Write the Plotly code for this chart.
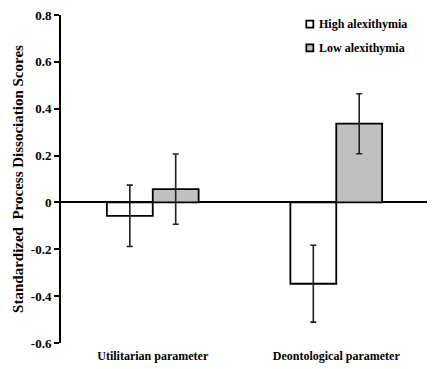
import plotly.graph_objects as go

categories = ["Utilitarian parameter", "Deontological parameter"]
series_names = ["High alexithymia", "Low alexithymia"]
series_colors = ["white", "#c0c0c0"]
high_vals = [-0.057, -0.347]
high_err = [0.131, 0.164]
low_vals = [0.057, 0.336]
low_err = [0.150, 0.128]
y_ticks = [0.8, 0.6, 0.4, 0.2, 0, -0.2, -0.4, -0.6]
y_tick_text = ["0.8", "0.6", "0.4", "0.2", "0", "-0.2", "-0.4", "-0.6"]

serif = "Liberation Serif, Times New Roman, serif"

fig = go.Figure()
for name, color, vals, errs in zip(series_names, series_colors,
                                   [high_vals, low_vals], [high_err, low_err]):
    fig.add_trace(go.Bar(
        x=categories, y=vals, name=name, showlegend=False,
        marker=dict(color=color, line=dict(color="black", width=1.8)),
        error_y=dict(type="data", array=errs, color="#222", thickness=1.6, width=3),
    ))

# legend drawn as small squares + text
leg_y = [0.972, 0.900]
for name, color, ly in zip(series_names, series_colors, leg_y):
    fig.add_shape(type="rect", xref="paper", yref="paper",
                  xsizemode="pixel", ysizemode="pixel",
                  xanchor=0.678, yanchor=ly, x0=-3.5, x1=3.5, y0=-3.5, y1=3.5,
                  fillcolor=color, line=dict(color="black", width=1.8))
    fig.add_annotation(x=0.6975, y=ly, xref="paper", yref="paper", text=name,
                       showarrow=False, xanchor="left", yanchor="middle",
                       font=dict(family=serif, size=12, color="black", weight="bold"))

# page body has an 8px default margin, so the figure is offset by 8px
fig.update_layout(
    width=427, height=361,
    margin=dict(l=53, r=7, t=7, b=26, autoexpand=False),
    paper_bgcolor="white", plot_bgcolor="white",
    barmode="group", bargap=0.5, bargroupgap=0,
    font=dict(family=serif, color="black", size=12),
    showlegend=False,
)
fig.update_xaxes(showline=False, showgrid=False, ticks="outside", ticklen=2,
                 tickcolor="rgba(0,0,0,0)", zeroline=False, automargin=False,
                 tickfont=dict(family=serif, size=12, color="black", weight="bold"))
fig.update_yaxes(range=[-0.6, 0.8], tickvals=y_ticks, ticktext=y_tick_text,
                 showgrid=False, showline=True, linecolor="black", linewidth=2,
                 ticks="outside", ticklen=5, tickwidth=2, tickcolor="black",
                 zeroline=True, zerolinecolor="black", zerolinewidth=2,
                 automargin=False, ticklabeloverflow="allow",
                 tickfont=dict(family=serif, size=13, color="black", weight="bold"),
                 title=dict(text="Standardized  Process Dissociation Scores",
                            font=dict(family=serif, size=15, color="black", weight="bold"),
                            standoff=4))

fig.write_html("out.html")
